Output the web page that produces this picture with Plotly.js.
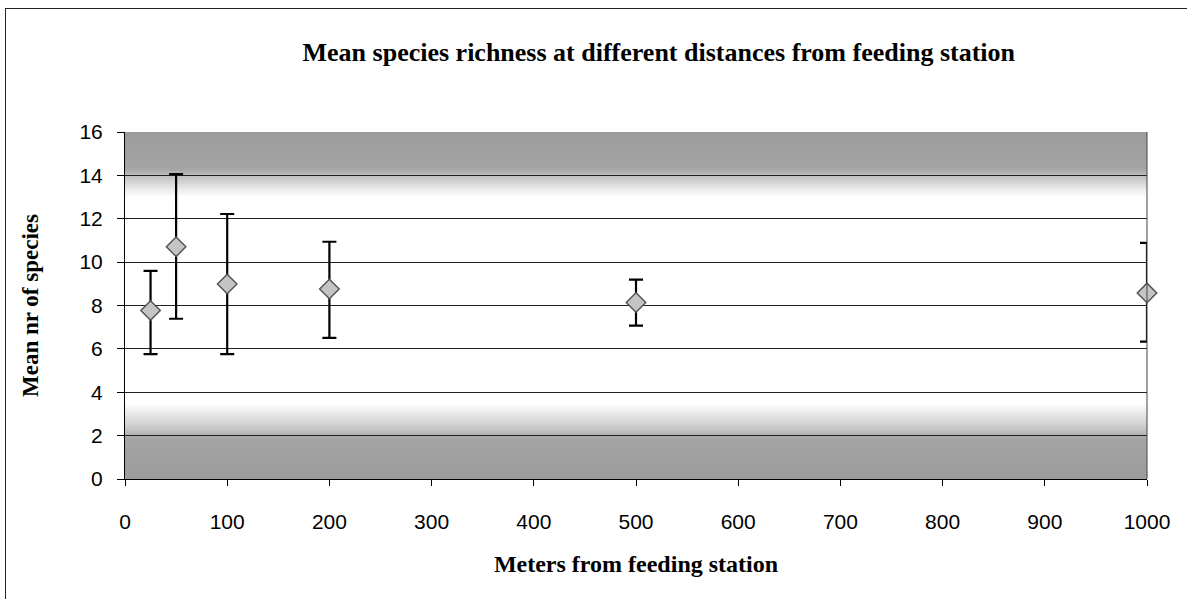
<!DOCTYPE html>
<html>
<head>
<meta charset="utf-8">
<script src="https://cdn.plot.ly/plotly-3.0.1.min.js"></script>
<style>
  html, body { margin: 0; padding: 0; background: #fff; }
  #wrap { position: relative; width: 1187px; height: 599px; overflow: hidden; }
  #chart { position: absolute; left: 0; top: 0; width: 1187px; height: 599px; }
  #frame { position: absolute; left: 5px; top: 8px; width: 1300px; height: 700px;
           border-left: 1px solid #222; border-top: 1px solid #222; pointer-events: none; }
</style>
</head>
<body>
<div id="wrap">
  <div id="chart"></div>
  <div id="frame"></div>
</div>
<script>
// ---- data ----
const distances = [25, 50, 100, 200, 500, 1000];          // meters from feeding station
const meanSpecies = [7.77, 10.71, 8.99, 8.76, 8.14, 8.58];  // mean nr of species
const errPlus  = [1.83, 3.35, 3.23, 2.18, 1.05, 2.31];
const errMinus = [2.01, 3.32, 3.23, 2.25, 1.07, 2.25];
const xTicks = [0, 100, 200, 300, 400, 500, 600, 700, 800, 900, 1000];
const yTicks = [0, 2, 4, 6, 8, 10, 12, 14, 16];

// ---- background gradient (styling only) ----
const gradStops = [
  [0.0, 156], [1.9, 164], [2.2, 192], [2.8, 222], [3.5, 255],
  [13.0, 255], [13.3, 238], [13.7, 212], [14.0, 190], [14.3, 164], [16.0, 156]
];
function grayAt(v) {
  for (let i = 0; i < gradStops.length - 1; i++) {
    const a = gradStops[i], b = gradStops[i + 1];
    if (v >= a[0] && v <= b[0]) {
      const t = (v - a[0]) / (b[0] - a[0]);
      return Math.round(a[1] + t * (b[1] - a[1]));
    }
  }
  return 255;
}
const shapes = [];
const step = 0.1;
for (let i = 0; i < 160; i++) {
  const v = i * step;
  const g = grayAt(v + step / 2);
  if (g >= 255) continue;
  shapes.push({
    type: 'rect', layer: 'below', xref: 'paper', yref: 'y',
    x0: 0, x1: 1, y0: v, y1: Math.min(16, v + step * 1.6),
    fillcolor: `rgb(${g},${g},${g})`, line: { width: 0 }
  });
}
// right border of plot area
shapes.push({ type: 'line', xref: 'paper', yref: 'paper', x0: 1, x1: 1, y0: 0, y1: 1,
  line: { color: '#444', width: 1 } });

const trace = {
  x: distances,
  y: meanSpecies,
  type: 'scatter',
  mode: 'markers',
  cliponaxis: false,
  marker: { symbol: 'diamond', size: 15, color: '#c4c4c4',
            line: { color: '#555', width: 1.5 } },
  error_y: { type: 'data', symmetric: false, array: errPlus, arrayminus: errMinus,
             color: '#000', thickness: 2.2, width: 7 },
  hoverinfo: 'x+y'
};

const layout = {
  width: 1187, height: 599,
  margin: { l: 125, r: 40, t: 132, b: 120 },
  paper_bgcolor: 'rgba(0,0,0,0)',
  plot_bgcolor: '#fff',
  showlegend: false,
  title: {
    text: 'Mean species richness at different distances from feeding station',
    font: { family: 'Liberation Serif, Times New Roman, serif', size: 26, color: '#000', weight: 'bold' },
    xref: 'container', x: 0.555, xanchor: 'center',
    yref: 'container', y: 0.913, yanchor: 'middle'
  },
  xaxis: {
    range: [0, 1000], tickvals: xTicks, ticktext: xTicks.map(String),
    showgrid: false, zeroline: false,
    showline: true, linecolor: '#000', linewidth: 1,
    ticks: 'outside', ticklen: 6, tickcolor: '#000',
    ticklabelstandoff: 18,
    tickfont: { family: 'Liberation Sans, Arial, sans-serif', size: 21, color: '#000' },
    title: { text: 'Meters from feeding station', standoff: 22,
             font: { family: 'Liberation Serif, Times New Roman, serif', size: 24, color: '#000', weight: 'bold' } },
    fixedrange: true
  },
  yaxis: {
    range: [0, 16], tickvals: yTicks, ticktext: yTicks.map(String),
    showgrid: true, gridcolor: '#222', gridwidth: 1,
    zeroline: false,
    showline: true, linecolor: '#000', linewidth: 1,
    ticks: 'outside', ticklen: 7, tickcolor: '#000',
    ticklabelstandoff: 10,
    tickfont: { family: 'Liberation Sans, Arial, sans-serif', size: 21, color: '#000' },
    title: { text: 'Mean nr of species', standoff: 34,
             font: { family: 'Liberation Serif, Times New Roman, serif', size: 23, color: '#000', weight: 'bold' } },
    fixedrange: true
  },
  shapes: shapes
};

Plotly.newPlot('chart', [trace], layout, { displayModeBar: false, staticPlot: true });
</script>
</body>
</html>
